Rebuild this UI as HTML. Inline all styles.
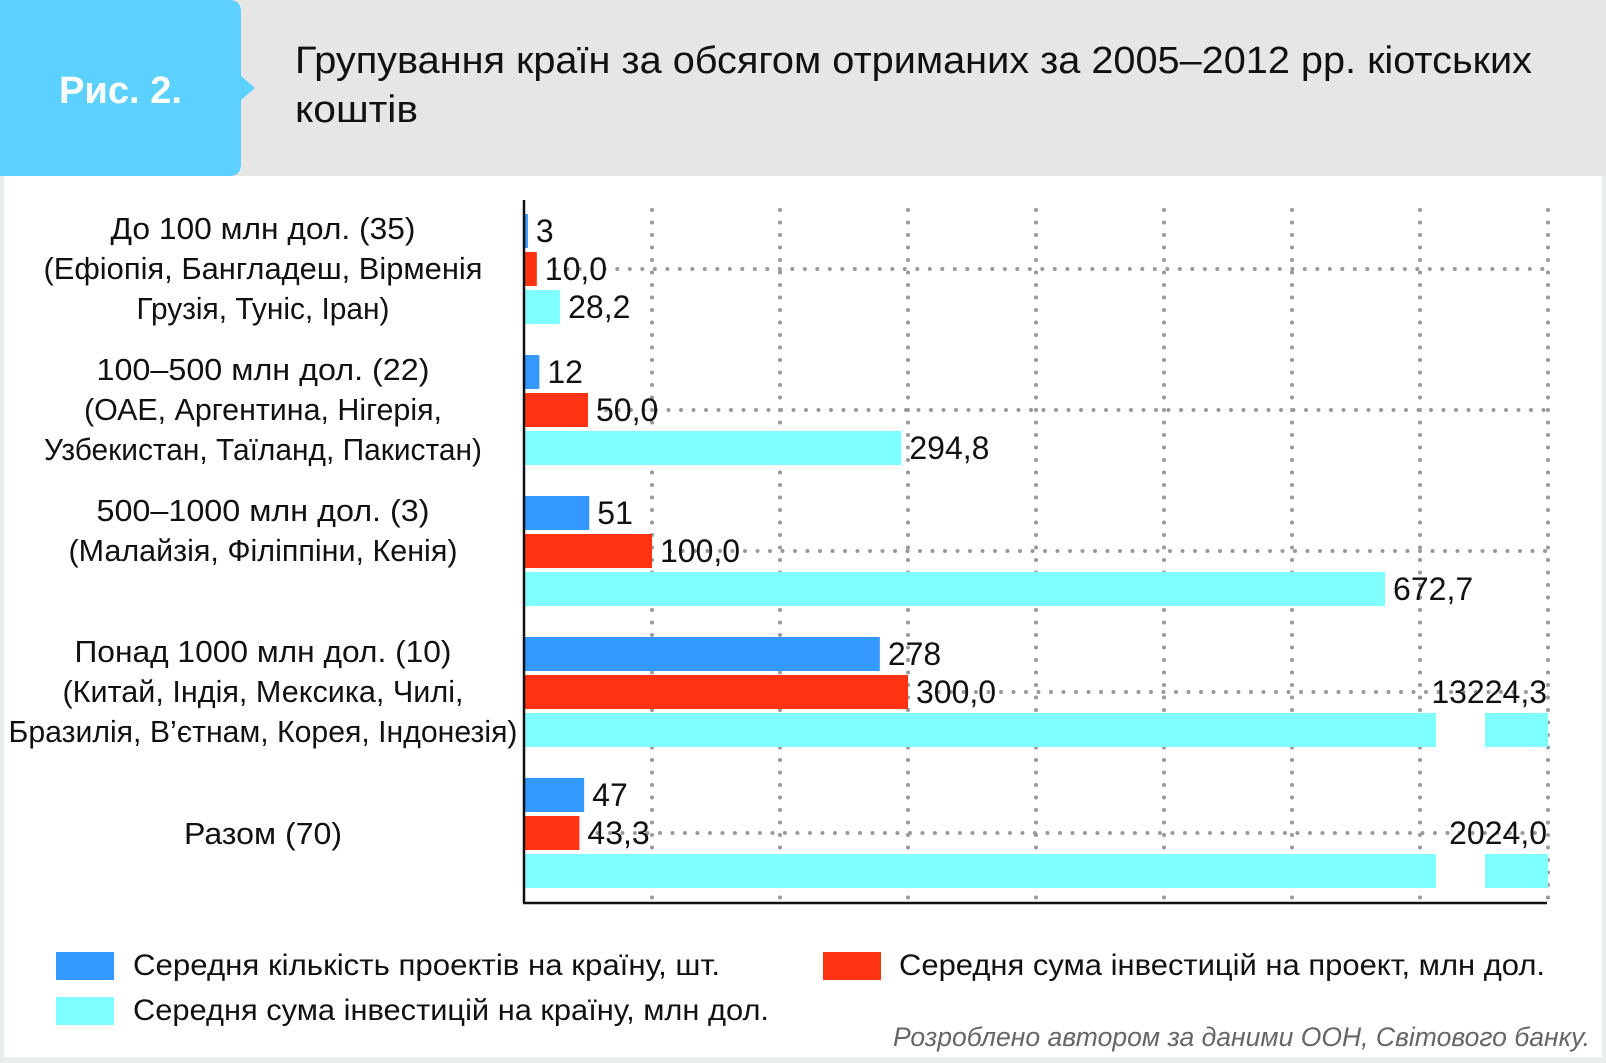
<!DOCTYPE html>
<html><head><meta charset="utf-8">
<style>
html,body{margin:0;padding:0;background:#e8eded;}
svg{display:block;font-family:"Liberation Sans","DejaVu Sans",sans-serif;}
</style></head>
<body>
<svg id="chart" width="1606" height="1063" xmlns="http://www.w3.org/2000/svg">
  <rect x="0" y="0" width="1606" height="1063" fill="#e8eded"/>
  <rect x="0" y="0" width="1606" height="176" fill="#e6e6e6"/>
  <rect x="4" y="176" width="1598" height="881" fill="#ffffff"/>
  <path d="M0 0 H229 Q241 0 241 12 V76 L255 88 L241 100 V164 Q241 176 229 176 H0 Z" fill="#5cd0fe"/>
  <text x="59" y="103" font-size="38" font-weight="bold" fill="#ffffff" textLength="123" lengthAdjust="spacingAndGlyphs">Рис. 2.</text>
  <text x="295" y="73" font-size="38" fill="#111" textLength="1237" lengthAdjust="spacingAndGlyphs">Групування країн за обсягом отриманих за 2005–2012 рр. кіотських</text>
  <text x="295" y="122" font-size="38" fill="#111" textLength="123" lengthAdjust="spacingAndGlyphs">коштів</text>
  <g id="grid"></g>
  <g id="bars"></g>
  <g id="cats"></g>
  <line x1="524" y1="200" x2="524" y2="903" stroke="#111" stroke-width="2.5"/>
  <line x1="523" y1="903" x2="1547" y2="903" stroke="#111" stroke-width="2.5"/>
  <g>
    <rect x="56" y="952" width="58" height="28" fill="#3399ff"/>
    <text x="133" y="975" font-size="30" fill="#111" textLength="587" lengthAdjust="spacingAndGlyphs">Середня кількість проектів на країну, шт.</text>
    <rect x="823" y="952" width="58" height="28" fill="#ff3311"/>
    <text x="899" y="975" font-size="30" fill="#111" textLength="646" lengthAdjust="spacingAndGlyphs">Середня сума інвестицій на проект, млн дол.</text>
    <rect x="56" y="997" width="58" height="28" fill="#7fffff"/>
    <text x="133" y="1020" font-size="30" fill="#111" textLength="636" lengthAdjust="spacingAndGlyphs">Середня сума інвестицій на країну, млн дол.</text>
  </g>
  <text x="893" y="1046" font-size="27" font-style="italic" fill="#666" textLength="697" lengthAdjust="spacingAndGlyphs">Розроблено автором за даними ООН, Світового банку.</text>
</svg>
<script>
const categoryLines = [
  ["До 100 млн дол. (35)", "(Ефіопія, Бангладеш, Вірменія", "Грузія, Туніс, Іран)"],
  ["100–500 млн дол. (22)", "(ОАЕ, Аргентина, Нігерія,", "Узбекистан, Таїланд, Пакистан)"],
  ["500–1000 млн дол. (3)", "(Малайзія, Філіппіни, Кенія)"],
  ["Понад 1000 млн дол. (10)", "(Китай, Індія, Мексика, Чилі,", "Бразилія, В’єтнам, Корея, Індонезія)"],
  ["Разом (70)"]
];
const categoryLineWidths = [
  [305, 439, 253],
  [333, 358, 438],
  [333, 389],
  [377, 401, 509],
  [158]
];
const projectsPerCountry = [3, 12, 51, 278, 47];
const investPerProject = [10.0, 50.0, 100.0, 300.0, 43.3];
const investPerCountry = [28.2, 294.8, 672.7, 13224.3, 2024.0];
const gridTicks = [100, 200, 300, 400, 500, 600, 700, 800];

const NS = "http://www.w3.org/2000/svg";
const X0 = 524, PX = 1.28, XMAX = 800;
const xScale = v => X0 + v * PX;
const groupTop = i => 214 + i * 141;
const BAR_H = 34, BAR_STEP = 38;
const fmt = (v, dec) => dec ? v.toFixed(1).replace('.', ',') : String(v);
function mk(tag, attrs, parent) {
  const e = document.createElementNS(NS, tag);
  for (const k in attrs) e.setAttribute(k, attrs[k]);
  parent.appendChild(e);
  return e;
}
const grid = document.getElementById('grid');
const bars = document.getElementById('bars');
const cats = document.getElementById('cats');

gridTicks.forEach(t => {
  const l = mk('line', {x1: xScale(t), y1: 210, x2: xScale(t), y2: 903, stroke: '#999', 'stroke-width': 4, 'stroke-linecap': 'round', 'stroke-dasharray': '0 12.5'}, grid);
  
  
});

const series = [
  {vals: projectsPerCountry, color: '#3399ff', dec: false, name: 'projects'},
  {vals: investPerProject, color: '#ff3311', dec: true, name: 'per-project'},
  {vals: investPerCountry, color: '#7fffff', dec: true, name: 'per-country'}
];

categoryLines.forEach((lines, i) => {
  const top = groupTop(i);
  const redC = top + BAR_STEP + BAR_H / 2;
  const redEnd = xScale(Math.min(investPerProject[i], XMAX));
  const hl = mk('line', {x1: redEnd + 18, y1: redC, x2: 1547, y2: redC, stroke: '#999', 'stroke-width': 4, 'stroke-linecap': 'round', 'stroke-dasharray': '0 12.5'}, grid);
  
  

  const n = lines.length;
  const firstC = n === 1 ? redC : top + 14;
  lines.forEach((s, j) => {
    const t = mk('text', {x: 263, y: firstC + j * 40 + 11, 'font-size': 31, 'text-anchor': 'middle', fill: '#111', textLength: categoryLineWidths[i][j], lengthAdjust: 'spacingAndGlyphs'}, cats);
    
    
    t.textContent = s;
  });

  series.forEach((s, k) => {
    const v = s.vals[i];
    const y = top + k * BAR_STEP;
    if (v > XMAX) {
      const r1 = mk('rect', {x: X0, y: y, width: 1436 - X0, height: BAR_H, fill: s.color}, bars);
      
      
      const r2 = mk('rect', {x: 1485, y: y, width: xScale(XMAX) - 1485, height: BAR_H, fill: s.color}, bars);
      
      
      const lb = mk('text', {x: 1547, y: redC + 11, 'font-size': 32, 'text-anchor': 'end', fill: '#111'}, bars);
      
      
      lb.textContent = fmt(v, s.dec);
    } else {
      const r = mk('rect', {x: X0, y: y, width: v * PX, height: BAR_H, fill: s.color}, bars);
      
      
      const lb = mk('text', {x: xScale(v) + 8, y: y + BAR_H / 2 + 11, 'font-size': 32, fill: '#111'}, bars);
      
      
      lb.textContent = fmt(v, s.dec);
    }
  });
});
</script>
</body></html>
